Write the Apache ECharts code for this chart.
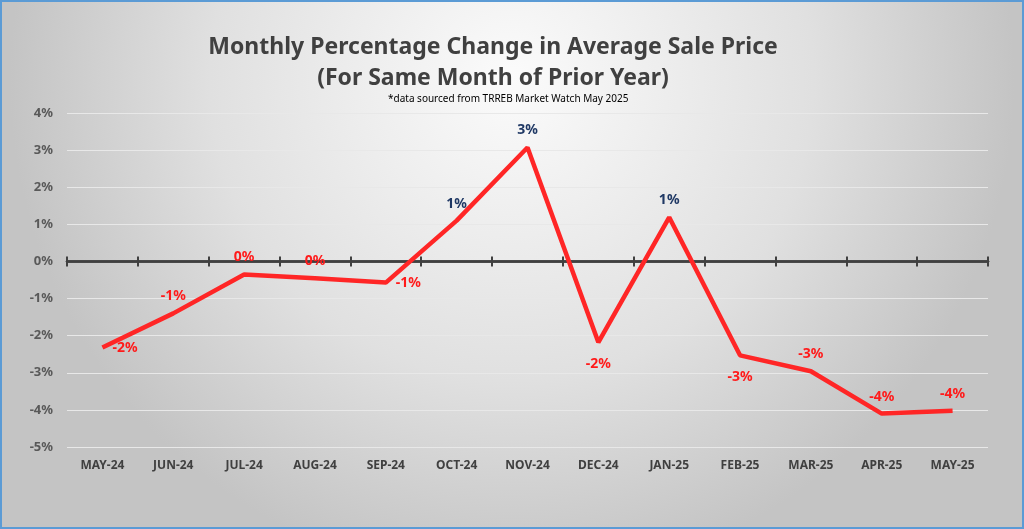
<!DOCTYPE html>
<html><head><meta charset="utf-8">
<script src="https://cdn.jsdelivr.net/npm/echarts@6/dist/echarts.min.js"></script>
<style>html,body{margin:0;padding:0;}#c{width:1024px;height:529px;}</style>
</head><body><div id="c"></div>
<script>
var months = ['MAY-24','JUN-24','JUL-24','AUG-24','SEP-24','OCT-24','NOV-24','DEC-24','JAN-25','FEB-25','MAR-25','APR-25','MAY-25'];
var pctChange = [-2.32, -1.40, -0.35, -0.45, -0.57, 1.10, 3.07, -2.18, 1.19, -2.53, -2.96, -4.10, -4.02];
var yTicks = [-5, -4, -3, -2, -1, 0, 1, 2, 3, 4];
var titleText = 'Monthly Percentage Change in Average Sale Price\n(For Same Month of Prior Year)';
var noteText = '*data sourced from TRREB Market Watch May 2025';
// label placement (style only)
var labelPlace = ['right','top','top','top','right','top','top','bottom','top','bottom','top','top','top'];
var labelNudge = [[2,0],[0,0],[0,0],[0,0],[3,0],[0,0],[0,0],[4,0],[0,0],[-6,-3],[0,0],[0,2],[0,2]];

var FONT = "'Noto Sans',sans-serif";
var chart = echarts.init(document.getElementById('c'));
var seriesData = pctChange.map(function (v, i) {
  return {
    value: v,
    label: {
      position: labelPlace[i],
      distance: labelPlace[i] === 'bottom' ? 14 : 9,
      offset: labelNudge[i],
      color: v > 0.5 ? '#1f3864' : '#ff1a1a'
    }
  };
});
var G = {left: 67, right: 36, top: 113, bottom: 82};
var hiddenY = function (gi) {
  return {type: 'value', gridIndex: gi, min: -5, max: 4, interval: 1, show: false};
};
chart.setOption({
  backgroundColor: {
    type: 'radial', x: 0.5, y: 0.15, r: 0.95,
    colorStops: [{offset: 0, color: '#fbfbfb'}, {offset: 0.6, color: '#e0e0e0'}, {offset: 1, color: '#c4c4c4'}]
  },
  title: {
    text: titleText, left: 488, top: 27, textAlign: 'center',
    textStyle: {fontFamily: FONT, fontSize: 23, fontWeight: 'bold', color: '#404040', lineHeight: 31}
  },
  graphic: [
    {type: 'text', left: 388, top: 94, style: {text: noteText, font: "10px " + FONT, fill: '#000'}},
    {type: 'rect', shape: {x: 1, y: 1, width: 1022, height: 527}, style: {fill: 'none', stroke: '#5b9bd5', lineWidth: 2}, silent: true, z: 100}
  ],
  grid: [G, G, G],
  xAxis: [
    {type: 'category', gridIndex: 0, data: months,
     axisLine: {onZero: true, lineStyle: {color: '#404040', width: 2.5}},
     axisTick: {show: true, length: 5, inside: false, lineStyle: {color: '#404040', width: 2}},
     axisLabel: {show: false}},
    {type: 'category', gridIndex: 1, data: months,
     axisLine: {onZero: true, lineStyle: {color: '#404040', width: 2.5}},
     axisTick: {show: true, length: 5, inside: true, lineStyle: {color: '#404040', width: 2}},
     axisLabel: {show: false}},
    {type: 'category', gridIndex: 2, data: months, position: 'bottom',
     axisLine: {show: false, onZero: false}, axisTick: {show: false},
     axisLabel: {margin: 13, fontFamily: FONT, fontSize: 12, fontWeight: 'bold', color: '#404040', interval: 0}}
  ],
  yAxis: [
    {type: 'value', gridIndex: 0, min: -5, max: 4, interval: 1,
     axisLine: {show: false}, axisTick: {show: false},
     splitLine: {lineStyle: {color: '#e8e8e8', width: 1.2}},
     axisLabel: {margin: 14, fontFamily: FONT, fontSize: 13, fontWeight: 'bold', color: '#595959',
       formatter: function (v) { return yTicks.indexOf(v) >= 0 ? v + '%' : ''; }}},
    hiddenY(1), hiddenY(2)
  ],
  series: [{
    type: 'line', data: seriesData, xAxisIndex: 0, yAxisIndex: 0,
    symbol: 'circle', symbolSize: 2, showSymbol: true,
    itemStyle: {color: 'rgba(255,38,38,0)'},
    lineStyle: {color: '#ff2626', width: 4.5},
    label: {show: true, fontFamily: FONT, fontSize: 14, fontWeight: 'bold',
      formatter: function (p) { var r = Math.round(p.value); if (r === 0) r = 0; return r + '%'; }},
    labelLayout: {hideOverlap: false},
    z: 5
  }]
});
</script></body></html>
